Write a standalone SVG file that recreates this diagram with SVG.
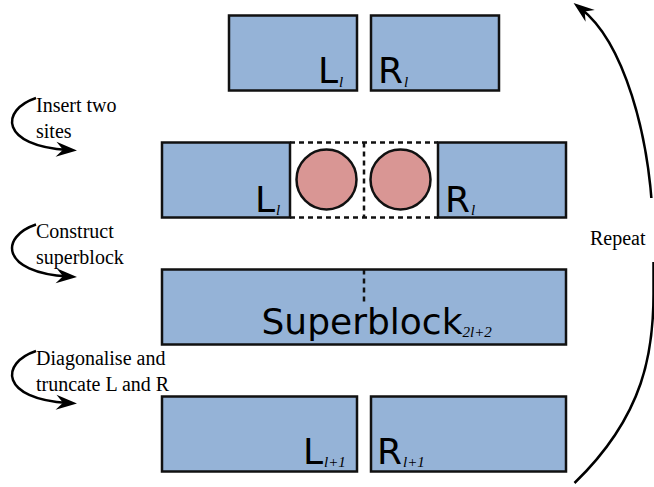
<svg xmlns="http://www.w3.org/2000/svg" width="654" height="487" viewBox="0 0 654 487">
  <style>
    .block { fill: #95b3d7; stroke: #111; stroke-width: 2.5; }
    .site { fill: #d99694; stroke: #111; stroke-width: 2.5; }
    .dash { fill: none; stroke: #111; stroke-width: 2.5; stroke-dasharray: 5 4; }
    .name { font-family: "DejaVu Sans", sans-serif; font-size: 36px; fill: #000; }
    .sub { font-family: "Liberation Serif", serif; font-style: italic; font-size: 15px; }
    .note { font-family: "Liberation Serif", serif; font-size: 20px; fill: #000; }
    .arrow { fill: none; stroke: #000; stroke-width: 2.5; }
  </style>
  <defs>
    <marker id="stealth" markerUnits="userSpaceOnUse" viewBox="-24 -9 26 18" markerWidth="26" markerHeight="18" refX="-9" refY="0" orient="auto">
      <path d="M0,0 L-21,-7.5 L-14,0 L-21,7.5 Z" fill="#000"/>
    </marker>
  </defs>

  <!-- row 1: blocks L_l and R_l -->
  <g id="L-top">
    <rect class="block" x="229" y="15.5" width="128" height="75"/>
    <text class="name" x="318" y="83">L<tspan class="sub" dx="1" dy="4">l</tspan></text>
  </g>
  <g id="R-top">
    <rect class="block" x="371" y="15.5" width="128" height="75"/>
    <text class="name" x="378" y="83">R<tspan class="sub" dx="1" dy="4">l</tspan></text>
  </g>

  <!-- row 2: blocks with two inserted sites -->
  <g id="L-sites">
    <rect class="block" x="162" y="142.5" width="128" height="75"/>
    <text class="name" x="255" y="212">L<tspan class="sub" dx="1" dy="3">l</tspan></text>
  </g>
  <g id="R-sites">
    <rect class="block" x="438" y="142.5" width="128" height="75"/>
    <text class="name" x="445" y="212">R<tspan class="sub" dx="1" dy="3">l</tspan></text>
  </g>
  <g id="sites">
    <path class="dash" d="M290 142.5 H438 M290 217.5 H438 M364 142.5 V217.5"/>
    <circle class="site" cx="326.5" cy="179.5" r="30"/>
    <circle class="site" cx="400.5" cy="179.5" r="30"/>
  </g>

  <!-- row 3: superblock -->
  <g id="superblock">
    <rect class="block" x="162" y="269.5" width="404" height="75"/>
    <path class="dash" d="M364 269.5 V305"/>
    <text class="name" x="261.5" y="334">Superblock<tspan class="sub" dx="0" dy="3">2l+2</tspan></text>
  </g>

  <!-- row 4: truncated blocks L_l+1 and R_l+1 -->
  <g id="L-next">
    <rect class="block" x="162" y="396.5" width="195" height="75"/>
    <text class="name" x="303" y="464">L<tspan class="sub" dx="1" dy="3">l+1</tspan></text>
  </g>
  <g id="R-next">
    <rect class="block" x="371" y="396.5" width="195" height="75"/>
    <text class="name" x="377" y="464">R<tspan class="sub" dx="1" dy="3">l+1</tspan></text>
  </g>

  <!-- step connectors -->
  <g id="connectors">
    <path id="step" class="arrow" d="M36 98 C0 110, 0 146, 68 150" marker-end="url(#stealth)"/>
    <use href="#step" transform="translate(0,126.5)"/>
    <use href="#step" transform="translate(0,253)"/>
    <!-- loop back from the last row to the first -->
    <path class="arrow" d="M574.5 483 C645 415, 654 350, 653.5 290 L653.5 250 C653.5 130, 620.2 39, 580.7 8.5" marker-end="url(#stealth)"/>
    <rect x="586" y="198" width="68" height="64" fill="#fff"/>
  </g>

  <!-- step labels -->
  <g id="labels">
    <text class="note" x="36" y="111.5">Insert two</text>
    <text class="note" x="36" y="137.5">sites</text>
    <text class="note" x="36" y="238">Construct</text>
    <text class="note" x="36" y="264">superblock</text>
    <text class="note" x="36" y="364.5">Diagonalise and</text>
    <text class="note" x="36" y="390.5">truncate L and R</text>
    <text class="note" x="590" y="245">Repeat</text>
  </g>
</svg>
